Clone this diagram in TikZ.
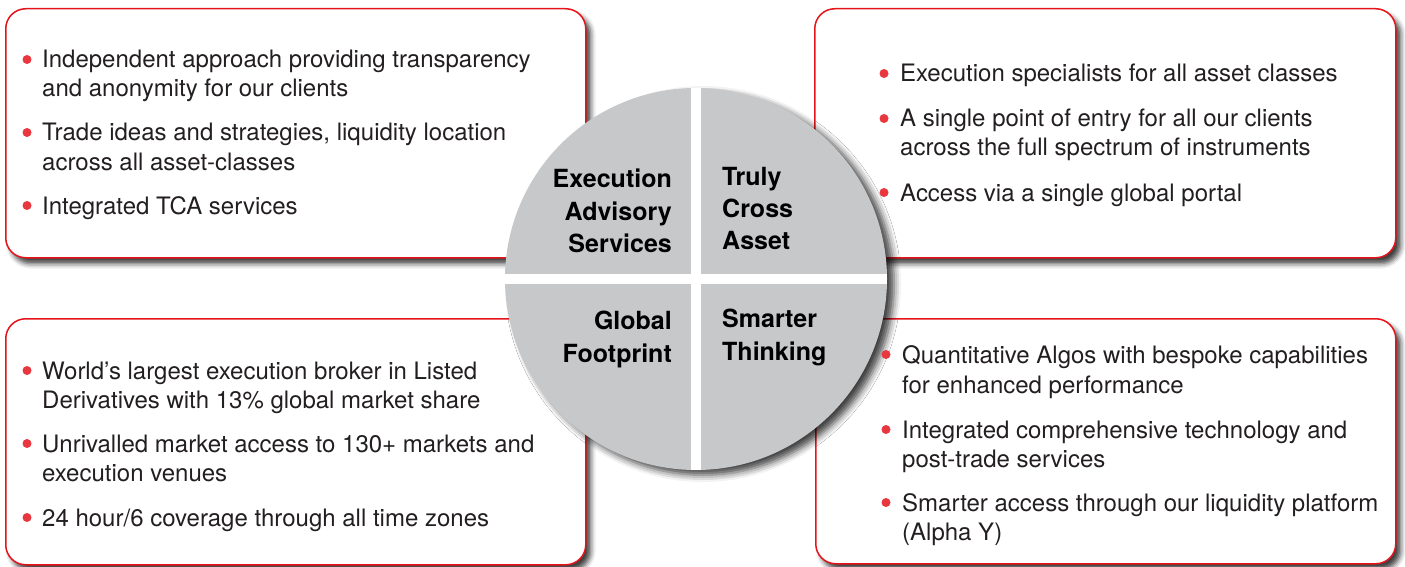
\documentclass[tikz,border=0pt]{standalone}
\usepackage{fontspec}
\setmainfont{TeX Gyre Heros}
\usetikzlibrary{shadows.blur}

\definecolor{framered}{HTML}{E5141B}
\definecolor{dotred}{HTML}{E8373F}
\definecolor{hubgray}{HTML}{C7C8CA}
\definecolor{inkgray}{HTML}{231F20}

\tikzset{
  panel/.style={draw=framered, line width=1.5pt, fill=white, rounded corners=20pt,
    anchor=north west, inner sep=0pt,
    blur shadow={shadow xshift=5pt, shadow yshift=-6pt, shadow blur radius=5pt,
      shadow opacity=75}},
  txt/.style={anchor=base west, inner sep=0pt, text=inkgray,
    font=\fontsize{24}{29}\selectfont},
  head/.style={inner sep=0pt, text=black, font=\fontsize{25}{32}\selectfont\bfseries},
}

\begin{document}
\begin{tikzpicture}[x=1pt,y=-1pt]
   \useasboundingbox (0,0) rectangle (1405,567);
   % four panels
   \node[panel, minimum width=580pt, minimum height=249pt] (tlbox) at (5,8) {};
   \node[panel, minimum width=581pt, minimum height=249pt] (trbox) at (814,8) {};
   \node[panel, minimum width=580pt, minimum height=246pt] (blbox) at (5,318) {};
   \node[panel, minimum width=580pt, minimum height=245pt] (brbox) at (815,318) {};
   % the hub
   \node[circle, fill=hubgray, minimum size=382pt, inner sep=0pt,
     blur shadow={shadow xshift=7pt, shadow yshift=-5pt, shadow blur radius=7pt,
       shadow opacity=75}] (hub) at (696,279) {};
   \draw[white, line width=10pt] (hub.north) -- (hub.south);
   \draw[white, line width=10pt] (hub.west) -- (hub.east);
   % hub labels
   \foreach \y/\t [count=\i] in {187/Execution, 220/Advisory, 252/Services} {
    \node[head, anchor=base east] (eas\i) at (672,\y) {\t};
   }
   \foreach \y/\t [count=\i] in {185/Truly, 217/Cross, 249/Asset} {
    \node[head, anchor=base west] (tca\i) at (722,\y) {\t};
   }
   \foreach \y/\t [count=\i] in {329/Global, 362/Footprint} {
    \node[head, anchor=base east] (gf\i) at (672,\y) {\t};
   }
   \foreach \y/\t [count=\i] in {327/Smarter, 360/Thinking} {
    \node[head, anchor=base west] (st\i) at (722,\y) {\t};
   }
   % top left text
   \foreach \y/\t [count=\i] in {68/{Independent approach providing transparency},
     97/{and anonymity for our clients},
     141/{Trade ideas and strategies, liquidity location},
     170/{across all asset-classes},
     214/{Integrated TCA services}} {
    \node[txt] (tl\i) at (42,\y) {\t};
   }
   \foreach \y in {68,141,214} {
    \fill[dotred] (27,\y-8.5) circle(4.5pt);
   }
   % top right text
   \foreach \y/\t [count=\i] in {82/{Execution specialists for all asset classes},
     127/{A single point of entry for all our clients},
     156/{across the full spectrum of instruments},
     201/{Access via a single global portal}} {
    \node[txt] (tr\i) at (900,\y) {\t};
   }
   \foreach \y in {82,127,201} {
    \fill[dotred] (884,\y-8.5) circle(4.5pt);
   }
   % bottom left text
   \foreach \y/\t [count=\i] in {379/{World’s largest execution broker in Listed},
     408/{Derivatives with 13\% global market share},
     452/{Unrivalled market access to 130+ markets and},
     481/{execution venues},
     526/{24 hour/6 coverage through all time zones}} {
    \node[txt] (bl\i) at (42,\y) {\t};
   }
   \foreach \y in {379,452,526} {
    \fill[dotred] (27,\y-8.5) circle(4.5pt);
   }
   % bottom right text
   \foreach \y/\t [count=\i] in {363/{Quantitative Algos with bespoke capabilities},
     393/{for enhanced performance},
     438/{Integrated comprehensive technology and},
     467/{post-trade services},
     511/{Smarter access through our liquidity platform},
     540/{(Alpha Y)}} {
    \node[txt] (br\i) at (902,\y) {\t};
   }
   \foreach \y in {363,438,511} {
    \fill[dotred] (886,\y-8.5) circle(4.5pt);
   }
\end{tikzpicture}
\end{document}
